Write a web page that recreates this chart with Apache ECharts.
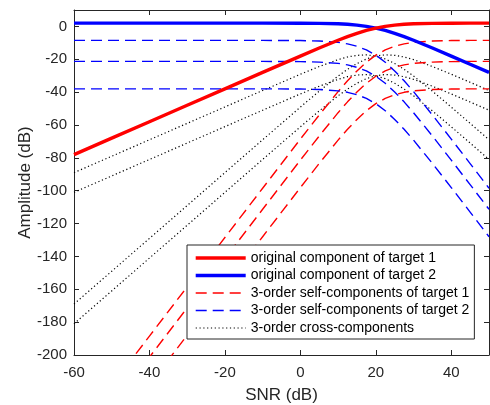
<!DOCTYPE html>
<html>
<head>
<meta charset="utf-8">
<script src="https://cdn.jsdelivr.net/npm/echarts@6/dist/echarts.min.js"></script>
<style>
  html, body { margin: 0; padding: 0; background: #fff; }
  #chart { width: 490px; height: 405px; }
</style>
</head>
<body>
<div id="chart"></div>
<script>
// SNR sample points (dB)
const snr = [-60, -50, -40, -30, -20, -10, 0, 5, 10, 12.5, 15, 17.5, 20, 22.5, 25, 27.5, 30, 35, 40, 45, 50];

// Original components (dB)
const origTarget1 = [-78, -68, -58, -48, -38, -28, -18.04, -13.13, -8.41, -6.21, -4.19, -2.44, -1.01, 0.06, 0.81, 1.29, 1.59, 1.87, 1.96, 1.99, 2.0];
const origTarget2 = [2, 2, 2, 2, 2, 2, 1.96, 1.87, 1.59, 1.29, 0.81, 0.06, -1.01, -2.44, -4.19, -6.21, -8.41, -13.13, -18.04, -23.01, -28.0];

// 3-order self-components of target 1 (dB)
const selfT1a = [-248.5, -218.5, -188.5, -158.5, -128.5, -98.5, -68.6, -53.9, -39.7, -33.1, -27.1, -21.8, -17.5, -14.3, -12.1, -10.6, -9.7, -8.9, -8.6, -8.5, -8.5];
const selfT1b = [-261.3, -231.3, -201.3, -171.3, -141.3, -111.3, -81.4, -66.7, -52.5, -45.9, -39.9, -34.6, -30.3, -27.1, -24.9, -23.4, -22.5, -21.7, -21.4, -21.3, -21.3];
const selfT1c = [-278, -248, -218, -188, -158, -128, -98.1, -83.4, -69.2, -62.6, -56.6, -51.3, -47.0, -43.8, -41.6, -40.1, -39.2, -38.4, -38.1, -38.0, -38.0];

// 3-order self-components of target 2 (dB)
const selfT2a = [-8.5, -8.5, -8.5, -8.5, -8.5, -8.5, -8.6, -8.9, -9.7, -10.6, -12.1, -14.3, -17.5, -21.8, -27.1, -33.1, -39.7, -53.9, -68.6, -83.5, -98.5];
const selfT2b = [-21.3, -21.3, -21.3, -21.3, -21.3, -21.3, -21.4, -21.7, -22.5, -23.4, -24.9, -27.1, -30.3, -34.6, -39.9, -45.9, -52.5, -66.7, -81.4, -96.3, -111.3];
const selfT2c = [-38, -38, -38, -38, -38, -38, -38.1, -38.4, -39.2, -40.1, -41.6, -43.8, -47.0, -51.3, -56.6, -62.6, -69.2, -83.4, -98.1, -113.0, -128.0];

// 3-order cross-components (dB)
const crossA = [-169, -149, -129, -109, -89, -69, -49.1, -39.4, -30.2, -26.1, -22.6, -19.8, -18.0, -17.3, -17.6, -18.6, -20.2, -24.4, -29.1, -34.0, -39.0];
const crossB = [-89, -79, -69, -59, -49, -39, -29.1, -24.4, -20.2, -18.6, -17.6, -17.3, -18.0, -19.8, -22.6, -26.1, -30.2, -39.4, -49.1, -59.0, -69.0];
const crossC = [-181, -161, -141, -121, -101, -81, -61.1, -51.4, -42.2, -38.1, -34.6, -31.8, -30.0, -29.3, -29.6, -30.6, -32.2, -36.4, -41.1, -46.0, -51.0];
const crossD = [-101, -91, -81, -71, -61, -51, -41.1, -36.4, -32.2, -30.6, -29.6, -29.3, -30.0, -31.8, -34.6, -38.1, -42.2, -51.4, -61.1, -71.0, -81.0];

// Legend entries
const names = [
  'original component of target 1',
  'original component of target 2',
  '3-order self-components of target 1',
  '3-order self-components of target 2',
  '3-order cross-components'
];

const FONT = '"Liberation Sans", Arial, Helvetica, sans-serif';
const AXIS_COLOR = '#262626';
const RED = '#ff0000';
const BLUE = '#0000ff';

function pairs(values) {
  return snr.map((x, i) => [x, values[i]]);
}

function lineSeries(name, values, color, width, type) {
  return {
    name: name,
    type: 'line',
    data: pairs(values),
    showSymbol: false,
    symbol: 'none',
    clip: true,
    animation: false,
    lineStyle: { color: color, width: width, type: type },
    itemStyle: { color: color },
    emphasis: { disabled: true }
  };
}

const dashed = [11, 6];
const dotted = [1.2, 2.6];

const series = [
  lineSeries(names[4], crossB, '#000', 1.2, dotted),
  lineSeries(names[4], crossA, '#000', 1.2, dotted),
  lineSeries(names[4], crossC, '#000', 1.2, dotted),
  lineSeries(names[4], crossD, '#000', 1.2, dotted),
  lineSeries(names[2], selfT1a, RED, 1.4, dashed),
  lineSeries(names[2], selfT1b, RED, 1.4, dashed),
  lineSeries(names[2], selfT1c, RED, 1.4, dashed),
  lineSeries(names[3], selfT2a, BLUE, 1.4, dashed),
  lineSeries(names[3], selfT2b, BLUE, 1.4, dashed),
  lineSeries(names[3], selfT2c, BLUE, 1.4, dashed),
  lineSeries(names[1], origTarget2, BLUE, 3.4, 'solid'),
  lineSeries(names[0], origTarget1, RED, 3.4, 'solid')
];

const tickStyle = { show: true, inside: true, length: 5, lineStyle: { color: AXIS_COLOR, width: 1 } };
const lineStyleAxis = { show: true, onZero: false, lineStyle: { color: AXIS_COLOR, width: 1 } };

const chart = echarts.init(document.getElementById('chart'), null, { renderer: 'canvas' });
chart.setOption({
  animation: false,
  backgroundColor: '#fff',
  grid: { left: 74, right: 1, top: 10, bottom: 50, containLabel: false, outerBoundsMode: 'none' },
  xAxis: [
    {
      type: 'value', position: 'bottom', min: -60, max: 50, interval: 20,
      axisLine: lineStyleAxis, axisTick: tickStyle, splitLine: { show: false },
      axisLabel: { color: AXIS_COLOR, fontFamily: FONT, fontSize: 15, margin: 10, showMaxLabel: false },
      name: 'SNR (dB)', nameLocation: 'middle', nameGap: 31.5, nameMoveOverlap: false,
      nameTextStyle: { color: AXIS_COLOR, fontFamily: FONT, fontSize: 17 }
    },
    {
      type: 'value', position: 'top', min: -60, max: 50, interval: 20,
      axisLine: lineStyleAxis, axisTick: tickStyle, splitLine: { show: false },
      axisLabel: { show: false }
    }
  ],
  yAxis: [
    {
      type: 'value', position: 'left', min: -200, max: 10, interval: 20,
      axisLine: lineStyleAxis, axisTick: tickStyle, splitLine: { show: false },
      axisLabel: { color: AXIS_COLOR, fontFamily: FONT, fontSize: 15, margin: 7, showMaxLabel: false },
      name: 'Amplitude (dB)', nameLocation: 'middle', nameGap: 40, nameMoveOverlap: false,
      nameTextStyle: { color: AXIS_COLOR, fontFamily: FONT, fontSize: 17 }
    },
    {
      type: 'value', position: 'right', min: -200, max: 10, interval: 20,
      axisLine: lineStyleAxis, axisTick: tickStyle, splitLine: { show: false },
      axisLabel: { show: false }
    }
  ],
  legend: {
    data: names,
    orient: 'vertical',
    left: 187,
    top: 245,
    itemWidth: 50,
    itemHeight: 14,
    itemGap: 3.5,
    padding: [6, 5, 4, 7],
    backgroundColor: '#fff',
    borderColor: AXIS_COLOR,
    borderWidth: 1,
    borderRadius: 0,
    selectedMode: false,
    itemStyle: { opacity: 0, borderWidth: 0 },
    lineStyle: { width: 'inherit' },
    textStyle: { color: '#000', fontFamily: FONT, fontSize: 14, lineHeight: 14 }
  },
  series: series
});
</script>
</body>
</html>
